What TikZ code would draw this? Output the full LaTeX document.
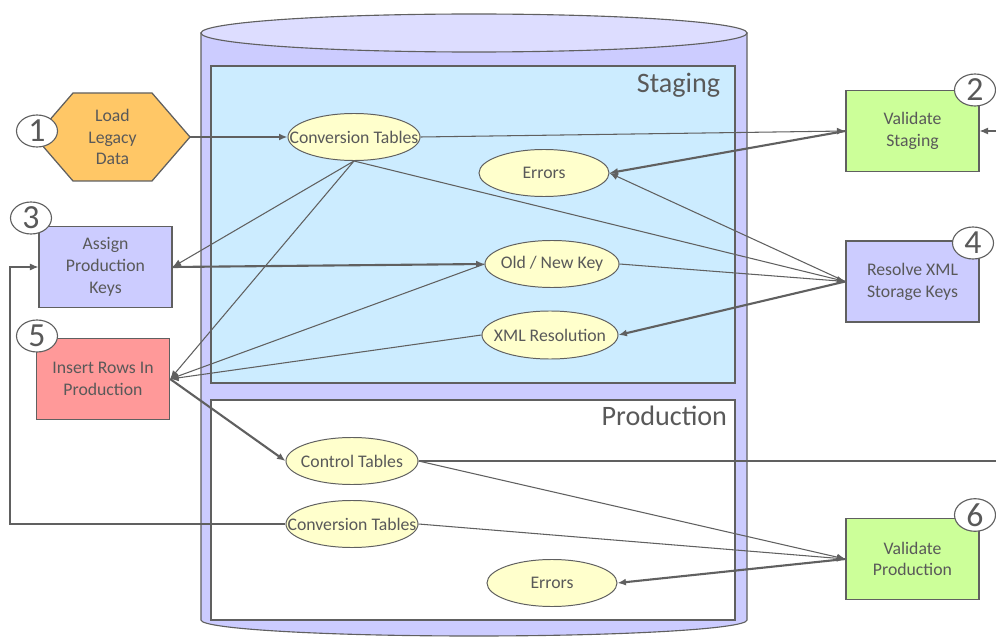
\documentclass[tikz,border=0pt]{standalone}
\usepackage{fontspec}
\setmainfont{Carlito}
\usetikzlibrary{shapes.geometric,arrows.meta}

\definecolor{linegray}{HTML}{606060}
\definecolor{textgray}{HTML}{595959}
\definecolor{cylfill}{HTML}{CCCCFF}
\definecolor{cyltop}{HTML}{DDDDFF}
\definecolor{stagefill}{HTML}{CCECFF}
\definecolor{ellfill}{HTML}{FFFFCC}
\definecolor{hexfill}{HTML}{FFC766}
\definecolor{greenfill}{HTML}{CCFF99}
\definecolor{redfill}{HTML}{FF9999}

\tikzset{
    labelfont/.style={font=\fontsize{12.6}{15.5}\selectfont},
    stepbox/.style={draw=linegray, line width=0.9pt, labelfont, text=textgray, align=center,
        minimum width=3.325cm, minimum height=2.025cm, inner sep=0pt},
    tablenode/.style={ellipse, draw=linegray, line width=0.7pt, fill=ellfill, labelfont, text=textgray,
        minimum width=3.3cm, minimum height=1.175cm, inner ysep=0pt, inner xsep=-13pt},
    numcirc/.style={ellipse, draw=linegray, line width=0.8pt, fill=white, text=textgray,
        font=\fontsize{24}{24}\selectfont, minimum width=1.025cm, minimum height=0.8cm, inner sep=0pt},
    areatitle/.style={anchor=north east, text=textgray, font=\fontsize{20}{20}\selectfont},
    thinarrow/.style={draw=linegray, line width=0.75pt, -{Latex[length=6pt,width=5pt]}},
    thickarrow/.style={draw=linegray, line width=1.5pt, -{Latex[length=6pt,width=5pt]}}
}

\begin{document}
\begin{tikzpicture}[x=0.025cm, y=-0.025cm]
    \useasboundingbox (0,0) rectangle (996,637);

    % Database cylinder
    \draw[draw=linegray, line width=0.8pt, fill=cylfill] (201,33) -- (201,620)
        arc[start angle=180, end angle=0, x radius=273, y radius=16] -- (747,33) -- cycle;
    \draw[draw=linegray, line width=0.8pt, fill=cyltop] (474,33) ellipse[x radius=273, y radius=19];

    % Staging area
    \draw[draw=linegray, line width=0.9pt, fill=stagefill] (211,66) rectangle (735,383);
    \node[areatitle] (staginglbl) at (725,68) {Staging};

    % Production area
    \draw[draw=linegray, line width=0.9pt, fill=white] (211,400) rectangle (735,620);
    \node[areatitle] (prodlbl) at (732,401) {Production};

    % Tables in staging
    \node[tablenode] (ctstage) at (354,137) {Conversion Tables};
    \node[tablenode, minimum width=3.25cm] (errstage) at (544,173) {Errors};
    \node[tablenode, minimum width=3.35cm] (oldnew) at (552,264) {Old / New Key};
    \node[tablenode, minimum width=3.4cm, minimum height=1.2cm] (xmlres) at (550,335) {XML Resolution};

    % Tables in production
    \node[tablenode] (ctrlprod) at (352,461) {Control Tables};
    \node[tablenode] (convprod) at (352,524) {Conversion Tables};
    \node[tablenode, minimum width=3.25cm] (errprod) at (552,583) {Errors};

    % Steps
    \draw[draw=linegray, line width=0.9pt, fill=hexfill]
        (35,137) -- (73,93) -- (152,93) -- (190,137) -- (152,181) -- (73,181) -- cycle;
    \node[labelfont, text=textgray, align=center, minimum width=3.875cm, minimum height=2.2cm, inner sep=0pt] (load) at (112.5,137) {Load\\Legacy\\Data};
    \node[stepbox, fill=greenfill] (valstage) at (912.5,131) {Validate\\Staging};
    \node[stepbox, fill=cylfill] (assign) at (105.5,267) {Assign\\Production\\Keys};
    \node[stepbox, fill=cylfill] (resolve) at (912.5,281.5) {Resolve XML\\Storage Keys};
    \node[stepbox, fill=redfill] (insert) at (103,379) {Insert Rows In\\Production};
    \node[stepbox, fill=greenfill] (valprod) at (912.5,559) {Validate\\Production};

    % Step numbers
    \foreach \n/\x/\y in {1/37/131, 2/975/90, 3/31/218, 4/973/243, 5/37/336, 6/975/515} {
        \node[numcirc] (num\n) at (\x,\y) {\n};
    }

    % Free ends of the long connectors
    \coordinate (offright) at (1010,461);
    \coordinate (leftrail) at (10,524);

    % Connectors
    \draw[thickarrow] (load.east) -- (ctstage.west);
    \draw[thinarrow] (ctstage.east) -- (valstage.west);
    \draw[thickarrow] (valstage.west) -- (errstage.east);
    \draw[thinarrow] (ctstage.south) -- (resolve.west);
    \draw[thinarrow] (resolve.west) -- (errstage.east);
    \draw[thinarrow] (oldnew.east) -- (resolve.west);
    \draw[thickarrow] (resolve.west) -- (xmlres.east);
    \draw[thinarrow] (ctstage.south) -- (assign.east);
    \draw[thinarrow] (ctstage.south) -- (insert.east);
    \draw[thickarrow] (assign.east) -- (oldnew.west);
    \draw[thinarrow] (oldnew.west) -- (insert.east);
    \draw[thinarrow] (xmlres.west) -- (insert.east);
    \draw[thickarrow] (insert.east) -- (ctrlprod.west);
    \draw[thinarrow] (ctrlprod.east) -- (offright) |- (valstage.east);
    \draw[thinarrow] (ctrlprod.east) -- (valprod.west);
    \draw[thinarrow] (convprod.east) -- (valprod.west);
    \draw[thickarrow] (valprod.west) -- (errprod.east);
    \draw[thinarrow] (convprod.west) -- (leftrail) |- (assign.west);
\end{tikzpicture}
\end{document}
